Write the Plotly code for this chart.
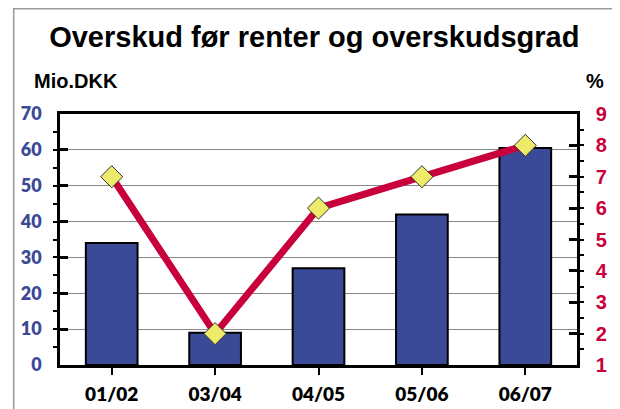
import plotly.graph_objects as go

categories = ["01/02", "03/04", "04/05", "05/06", "06/07"]
profit = [34, 9, 27, 42, 60.5]
margin = [7, 2, 6, 7, 8]

fig = go.Figure()
fig.add_trace(go.Bar(x=categories, y=profit, marker=dict(color="#3B4A97", line=dict(color="black", width=2)),
                     width=0.5, yaxis="y", showlegend=False))
fig.add_trace(go.Scatter(x=categories, y=margin, yaxis="y2", mode="lines+markers",
                         line=dict(color="#C8003C", width=7),
                         marker=dict(symbol="diamond", size=17, color="#EEEA6A", line=dict(color="#333333", width=1)),
                         showlegend=False))

tickfont_l = dict(family="Lato", size=18, color="#3B4A97", weight=800)
tickfont_r = dict(family="Liberation Sans", size=20, color="#C8003C", weight="bold")

# page offset (body margin) compensation: figure coords = screen - 8
L, T, R, B = 50, 106, 51, 52
PW, PH = 620 - L - R, 409 - T - B

fig.update_layout(
    width=620, height=409,
    margin=dict(l=L, r=R, t=T, b=B),
    paper_bgcolor="white", plot_bgcolor="white",
    title=dict(text="Overskud før renter og overskudsgrad", x=0.494, xanchor="center", y=0.929, yanchor="middle",
               font=dict(family="Liberation Sans", size=29, color="black", weight="bold")),
    xaxis=dict(showline=True, linecolor="black", linewidth=2.5, mirror=True, ticks="outside", ticklen=7,
               tickcolor="black", tickwidth=2, ticklabelstandoff=3,
               tickfont=dict(family="Lato", size=19, color="black", weight=800)),
    yaxis=dict(range=[0, 70], dtick=10, showgrid=True, gridcolor="#888888", gridwidth=1,
               showline=True, linecolor="black", linewidth=2.5, mirror=True, zeroline=False,
               ticks="inside", ticklen=8, tickcolor="black", tickwidth=2.5, tickfont=tickfont_l,
               ticklabelstandoff=12,
               minor=dict(dtick=5, ticks="outside", ticklen=4, tickcolor="black", tickwidth=2, showgrid=False)),
    yaxis2=dict(range=[1, 9], dtick=1, overlaying="y", side="right", showgrid=False, zeroline=False,
                showline=True, linecolor="black", linewidth=2.5,
                ticks="inside", ticklen=8, tickcolor="black", tickwidth=2.5, tickfont=tickfont_r,
                ticklabelstandoff=12,
                minor=dict(dtick=0.5, ticks="outside", ticklen=4, tickcolor="black", tickwidth=2, showgrid=False)),
    annotations=[
        dict(text="Mio.DKK", xref="paper", yref="paper", x=(22 - L) / PW, y=1.0 + (T - 73) / PH, xanchor="left",
             yanchor="middle", showarrow=False,
             font=dict(family="Liberation Sans", size=20, color="black", weight="bold")),
        dict(text="%", xref="paper", yref="paper", x=(598 - L) / PW, y=1.0 + (T - 73) / PH, xanchor="right",
             yanchor="middle", showarrow=False,
             font=dict(family="Liberation Sans", size=20, color="black", weight="bold")),
    ],
    shapes=[
        dict(type="rect", xref="paper", yref="paper", x0=(3.5 - L) / PW, x1=(606 - L) / PW,
             y0=-0.5, y1=1 + (T - 0.8) / PH, line=dict(color="#999999", width=1.5), layer="below"),
    ],
)

fig.write_html("out.html")
